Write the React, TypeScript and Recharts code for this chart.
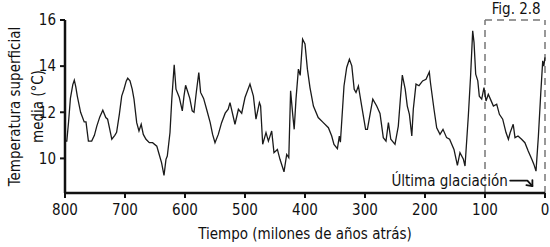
import React from 'react';
import { LineChart, Line, XAxis, YAxis, ReferenceLine, ReferenceDot, Label } from 'recharts';

// millones de años atrás / temperatura media (°C)
const years = [
  800, 797, 794, 791, 787, 784.5, 782, 779.5, 774, 768, 765, 761, 755.5, 751, 747, 742, 737, 732, 729, 726,
  722, 717, 714, 709.5, 705.5, 701.7, 698, 695.5, 691.7, 688, 685, 680.5, 676.7, 673, 669.5, 665, 659.5, 654,
  647, 643, 639, 635, 631.7, 629.5, 625, 622, 618, 615, 609.5, 604.5, 601.7, 599, 596, 592, 588, 585, 581, 577,
  574, 569, 564, 558, 554, 550, 544.5, 539, 533, 528, 525, 516.7, 511, 505.5, 500, 491.7, 486, 481.7, 476, 474,
  470.5, 465, 461, 455.5, 451.7, 446, 441.7, 435, 430.5, 427, 424, 420.5, 418, 415, 411, 408, 404, 400, 396,
  391.7, 386, 378, 369.5, 361, 355.5, 351.7, 346, 342.8, 341, 335, 330.5, 326, 322, 318, 315, 311, 305.5, 299,
  296, 291, 287, 280.5, 275, 269.5, 265, 261, 257, 250, 244.5, 241, 237.8, 233, 229.5, 226, 222, 219.5, 215,
  210, 204, 198.3, 192.8, 191, 185, 180.5, 175, 170, 164, 159, 151.7, 146, 141.7, 136, 133.3, 127.8, 124,
  120.5, 118.3, 115.5, 112, 109.5, 105.5, 101.7, 98.3, 94.5, 91, 86, 80.5, 76, 70.5, 65, 61, 58, 53, 50, 45,
  39, 33.5, 28, 22, 18.5, 15, 11, 7, 3.8, 2, 0,
];
const temps = [
  10.75, 10.75, 11.6, 12.6, 13.2, 13.39, 13.1, 12.7, 12.0, 11.58, 11.58, 10.75, 10.75, 11.0, 11.4, 11.8, 12.09, 11.77, 11.7, 11.33,
  10.83, 11.0, 11.13, 11.9, 12.7, 13.0, 13.35, 13.48, 13.36, 13.0, 12.57, 11.55, 11.19, 11.48, 11.04, 10.83, 10.68, 10.68,
  10.53, 10.17, 9.81, 9.26, 9.96, 10.1, 11.12, 12.57, 14.06, 13.0, 12.64, 12.06, 12.7, 13.17, 12.93, 12.6, 12.06, 12.0, 12.9, 13.72,
  12.86, 12.6, 12.13, 11.55, 11.04, 10.68, 11.04, 11.55, 11.96, 12.13, 12.42, 11.48, 12.13, 11.96, 12.64, 13.22, 12.7, 11.7, 12.42, 12.28,
  10.61, 11.12, 10.75, 11.19, 10.25, 10.39, 9.96, 9.42, 10.17, 10.03, 12.93, 11.91, 11.26, 12.57, 13.87, 13.6, 15.17, 14.96, 13.87,
  13.07, 12.27, 11.77, 11.55, 11.33, 10.97, 10.61, 10.42, 10.97, 10.7, 13.14, 13.94, 14.3, 14.01, 13.0, 12.86, 13.14, 12.27, 11.26,
  11.26, 12.0, 12.57, 12.27, 11.95, 10.9, 10.75, 11.55, 10.83, 10.61, 11.4, 12.6, 13.61, 13.0, 12.27, 11.91, 10.97, 12.13, 13.22,
  13.15, 13.36, 13.43, 13.75, 13.3, 12.13, 11.33, 11.04, 11.26, 10.9, 10.83, 10.39, 9.7, 10.25, 9.96, 9.67, 11.84, 13.58,
  15.53, 15.03, 13.65, 13.36, 12.7, 12.57, 13.07, 12.49, 12.78, 12.57, 12.27, 12.35, 11.91, 11.7, 11.12, 10.83, 11.12, 11.48, 10.9, 10.97,
  10.83, 10.68, 10.32, 9.96, 9.74, 9.45, 10.97, 12.86, 14.23, 14.0, 14.38,
];

const xTicks = [800, 700, 600, 500, 400, 300, 200, 100, 0];
const yTicks = [10, 12, 14, 16];
const yLabelLines = ['Temperatura superficial', 'media (°C)'];
const xLabel = 'Tiempo (milones de años atrás)';
const boxLabel = 'Fig. 2.8';
const noteLabel = 'Última glaciación';

const data = years.map((t, i) => ({ t, temp: temps[i] }));

const FONT = '"DejaVu Sans Condensed", "DejaVu Sans", sans-serif';
const INK = '#111';

const YTitle = (props: any) => {
  const vb = props.viewBox || {};
  const cy = vb.y + vb.height / 2;
  return (
    <g fontFamily={FONT} fontSize={15} fill={INK}>
      <text x={15} y={cy} transform={`rotate(-90, 15, ${cy})`} textAnchor="middle" dominantBaseline="central">
        {yLabelLines[0]}
      </text>
      <text x={38} y={cy} transform={`rotate(-90, 38, ${cy})`} textAnchor="middle" dominantBaseline="central">
        {yLabelLines[1]}
      </text>
    </g>
  );
};

const Arrow = (props: any) => {
  const { x1, y1, x2, y2 } = props;
  return (
    <g stroke={INK} strokeWidth={1.8} fill="none" strokeLinecap="round" strokeLinejoin="round">
      <path d={`M${x1},${y1} L${x2 - 5},${y1} L${x2},${y2}`} />
      <path d={`M${x2 - 6},${y2 - 1} L${x2},${y2} L${x2},${y2 - 6}`} />
    </g>
  );
};

export default function App() {
  return (
    <div style={{ position: 'absolute', left: 0, top: 0, background: '#fff' }}>
      <LineChart width={550} height={247} data={data} margin={{ top: 20, right: 5, bottom: 0, left: 0 }}>
        <XAxis
          dataKey="t"
          type="number"
          domain={[0, 800]}
          reversed
          ticks={xTicks}
          height={54}
          tickSize={5}
          tickMargin={6}
          axisLine={{ stroke: INK, strokeWidth: 2.5 }}
          tickLine={{ stroke: INK, strokeWidth: 2 }}
          tick={{ fill: INK, fontSize: 15, fontFamily: FONT }}
        >
          <Label value={xLabel} position="insideBottom" offset={8} fill={INK} fontSize={15} fontFamily={FONT} />
        </XAxis>
        <YAxis
          type="number"
          domain={[8.5, 16]}
          ticks={yTicks}
          width={65}
          tickSize={5}
          tickMargin={4}
          axisLine={{ stroke: INK, strokeWidth: 2.5 }}
          tickLine={{ stroke: INK, strokeWidth: 2 }}
          tick={{ fill: INK, fontSize: 15, fontFamily: FONT }}
          label={<YTitle />}
        />
        <ReferenceLine segment={[{ x: 100, y: 8.5 }, { x: 100, y: 16 }]} stroke="#777" strokeWidth={1.5} strokeDasharray="7 5" />
        <ReferenceLine segment={[{ x: 0, y: 8.5 }, { x: 0, y: 16 }]} stroke="#777" strokeWidth={1.5} strokeDasharray="7 5" />
        <ReferenceLine segment={[{ x: 100, y: 16 }, { x: 0, y: 16 }]} stroke="#777" strokeWidth={1.5} strokeDasharray="7 5" />
        <ReferenceDot x={48} y={16} r={0} fill="none" stroke="none">
          <Label value={boxLabel} position="top" offset={6} fill={INK} fontSize={15} fontFamily={FONT} />
        </ReferenceDot>
        <ReferenceDot x={62} y={9.04} r={0} fill="none" stroke="none">
          <Label value={noteLabel} position="left" offset={0} fill={INK} fontSize={15} fontFamily={FONT} />
        </ReferenceDot>
        <ReferenceLine segment={[{ x: 58, y: 9.04 }, { x: 21, y: 8.8 }]} shape={<Arrow />} />
        <Line type="linear" dataKey="temp" stroke="#1a1a1a" strokeWidth={1.3} dot={false} isAnimationActive={false} />
      </LineChart>
    </div>
  );
}
